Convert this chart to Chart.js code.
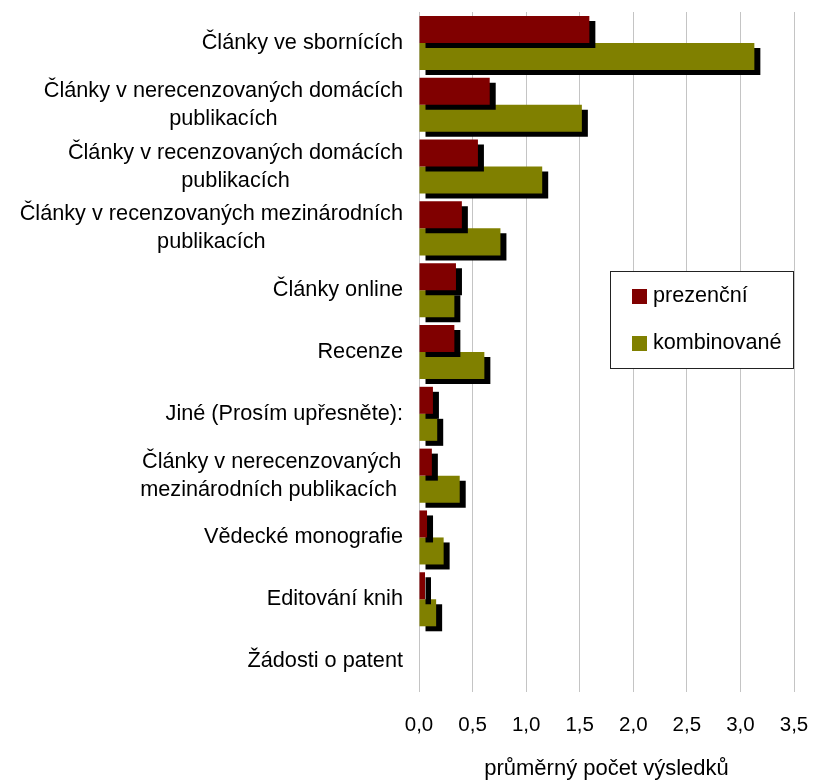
<!DOCTYPE html>
<html>
<head>
<meta charset="utf-8">
<script src="https://cdn.jsdelivr.net/npm/chart.js@4"></script>
<style>
  html, body { margin: 0; padding: 0; background: #fff; }
  #wrap { width: 813px; height: 782px; }
</style>
</head>
<body>
<div id="wrap"><canvas id="chart" width="813" height="782"></canvas></div>
<script>
const categories = [
    'Články ve sbornících',
    ['Články v nerecenzovaných domácích', 'publikacích'],
    ['Články v recenzovaných domácích', 'publikacích'],
    ['Články v recenzovaných mezinárodních', 'publikacích'],
    'Články online',
    'Recenze',
    'Jiné (Prosím upřesněte):',
    ['Články v nerecenzovaných', 'mezinárodních publikacích '],
    'Vědecké monografie',
    'Editování knih',
    'Žádosti o patent'
];
const prezencni = [1.59, 0.66, 0.55, 0.40, 0.345, 0.33, 0.13, 0.12, 0.075, 0.056, 0];
const kombinovane = [3.13, 1.52, 1.15, 0.76, 0.33, 0.61, 0.17, 0.38, 0.23, 0.16, 0];
const seriesNames = ['prezenční', 'kombinované'];
const axisTitle = 'průměrný počet výsledků';

const FONT = '"Liberation Sans", Arial, sans-serif';

// black drop shadow under the bars
const barShadow = {
    id: 'barShadow',
    beforeDatasetsDraw(chart) {
        const ctx = chart.ctx;
        ctx.save();
        ctx.shadowColor = '#000';
        ctx.shadowBlur = 0;
        ctx.shadowOffsetX = 6;
        ctx.shadowOffsetY = 5;
    },
    afterDatasetsDraw(chart) {
        chart.ctx.restore();
    }
};

// category labels: block right aligned, lines centred inside the block
const catLabels = {
    id: 'catLabels',
    afterDraw(chart) {
        const ctx = chart.ctx;
        const y = chart.scales.y;
        ctx.save();
        ctx.font = '21.7px ' + FONT;
        ctx.fillStyle = '#000';
        ctx.textBaseline = 'middle';
        ctx.textAlign = 'center';
        const right = y.right - 16;
        const lh = 28;
        chart.data.labels.forEach((lab, i) => {
            const lines = Array.isArray(lab) ? lab : [lab];
            const w = Math.max(...lines.map(l => ctx.measureText(l).width));
            const cx = right - w / 2;
            const cy = y.getPixelForTick(i);
            lines.forEach((l, k) => {
                ctx.fillText(l, cx, cy + (k - (lines.length - 1) / 2) * lh);
            });
        });
        ctx.restore();
    }
};

// boxed legend inside the plot
const boxLegend = {
    id: 'boxLegend',
    afterDraw(chart) {
        const ctx = chart.ctx;
        const x0 = 610, y0 = 271, w = 183, h = 97;
        ctx.save();
        ctx.fillStyle = '#fff';
        ctx.fillRect(x0, y0, w, h);
        ctx.strokeStyle = '#222';
        ctx.lineWidth = 1;
        ctx.strokeRect(x0 + 0.5, y0 + 0.5, w, h);
        ctx.font = '21.6px ' + FONT;
        ctx.textBaseline = 'middle';
        ctx.textAlign = 'left';
        chart.data.datasets.forEach((ds, i) => {
            const cy = y0 + 25 + i * 47;
            ctx.fillStyle = ds.backgroundColor;
            ctx.fillRect(x0 + 22, cy - 7, 15, 15);
            ctx.fillStyle = '#000';
            ctx.fillText(ds.label, x0 + 43, cy);
        });
        ctx.restore();
    }
};

new Chart(document.getElementById('chart'), {
    type: 'bar',
    data: {
        labels: categories,
        datasets: [{
            label: seriesNames[0],
            data: prezencni,
            backgroundColor: '#800000',
            categoryPercentage: 0.874,
            barPercentage: 1
        }, {
            label: seriesNames[1],
            data: kombinovane,
            backgroundColor: '#808000',
            categoryPercentage: 0.874,
            barPercentage: 1
        }]
    },
    options: {
        indexAxis: 'y',
        responsive: false,
        animation: false,
        layout: { padding: { top: 12, right: 19, bottom: 0, left: 0 } },
        plugins: {
            legend: { display: false },
            tooltip: { enabled: false }
        },
        scales: {
            x: {
                min: 0,
                max: 3.5,
                ticks: {
                    stepSize: 0.5,
                    padding: 21,
                    color: '#000',
                    font: { family: FONT, size: 20.5 },
                    callback: v => v.toFixed(1).replace('.', ',')
                },
                grid: { color: '#c4c4c4', drawTicks: false },
                border: { display: false },
                title: {
                    display: true,
                    text: axisTitle,
                    color: '#000',
                    font: { family: FONT, size: 22 },
                    padding: { top: -3, bottom: 0 }
                },
                afterFit(scale) {
                    scale.height = 90;
                    scale.paddingLeft = 0;
                    scale.paddingRight = 0;
                }
            },
            y: {
                ticks: { display: false },
                grid: { display: false },
                border: { display: false },
                afterFit(scale) { scale.width = 419; }
            }
        }
    },
    plugins: [barShadow, catLabels, boxLegend]
});
</script>
</body>
</html>
